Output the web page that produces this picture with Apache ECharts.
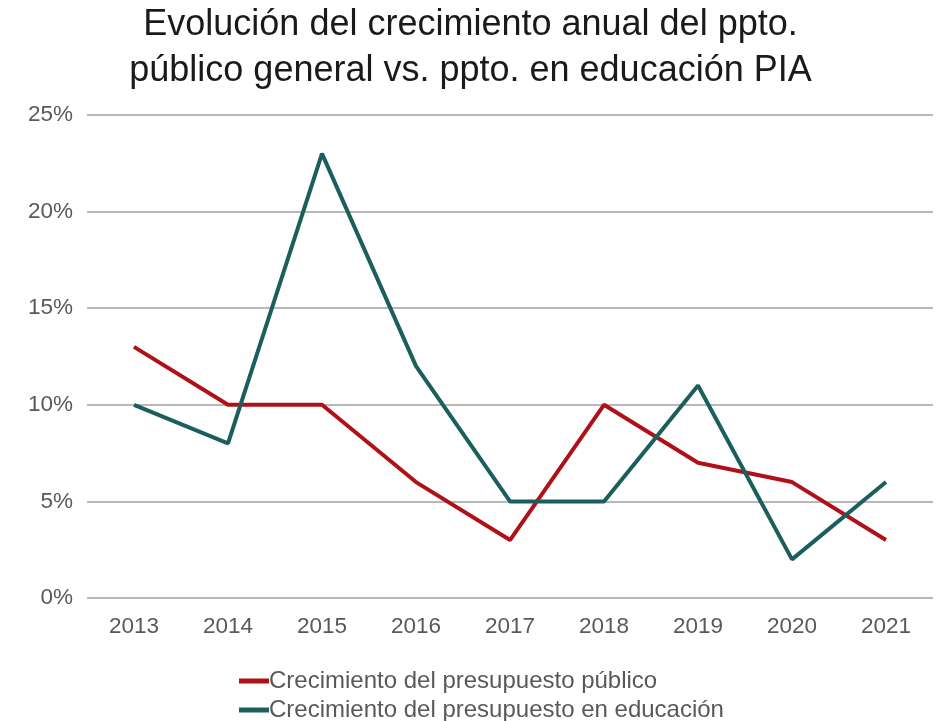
<!DOCTYPE html>
<html>
<head>
<meta charset="utf-8">
<script src="https://cdn.jsdelivr.net/npm/echarts@6/dist/echarts.min.js"></script>
<style>
  html, body { margin: 0; padding: 0; background: #fff; }
  #chart { width: 941px; height: 721px; }
</style>
</head>
<body>
<div id="chart"></div>
<script>
var years = ["2013", "2014", "2015", "2016", "2017", "2018", "2019", "2020", "2021"];
var publico = [13, 10, 10, 6, 3, 10, 7, 6, 3];
var educacion = [10, 8, 23, 12, 5, 5, 11, 2, 6];
var seriesNames = ["Crecimiento del presupuesto público", "Crecimiento del presupuesto en educación"];

var chart = echarts.init(document.getElementById("chart"));
var font = "'Liberation Sans', Arial, sans-serif";

// one legend per row, the reference stacks them
function legendRow(name, top) {
  return {
    left: 234,
    top: top,
    itemWidth: 30,
    itemHeight: 5,
    itemGap: 4,
    icon: "rect",
    data: [name],
    textStyle: {
      fontFamily: font,
      fontSize: 24,
      color: "#595959",
      padding: [0, 0, 0, -5]
    }
  };
}

chart.setOption({
  animation: false,
  title: {
    text: "Evolución del crecimiento anual del ppto.\npúblico general vs. ppto. en educación PIA",
    left: "center",
    top: -3,
    textStyle: {
      fontFamily: font,
      fontSize: 36,
      fontWeight: "normal",
      color: "#1a1a1a",
      lineHeight: 46
    }
  },
  grid: {
    left: 87,
    right: 8,
    top: 115,
    bottom: 123
  },
  xAxis: {
    type: "category",
    data: years,
    boundaryGap: true,
    axisLine: { show: false },
    axisTick: { show: false },
    axisLabel: {
      fontFamily: font,
      fontSize: 22.5,
      color: "#595959",
      margin: 17
    }
  },
  yAxis: {
    type: "value",
    min: 0,
    max: 25,
    interval: 5,
    axisLine: { show: false },
    axisTick: { show: false },
    axisLabel: {
      formatter: "{value}%",
      fontFamily: font,
      fontSize: 22.5,
      color: "#595959",
      margin: 14
    },
    splitLine: {
      lineStyle: { color: "#b8b8b8", width: 2 }
    }
  },
  legend: [
    legendRow(seriesNames[0], 664),
    legendRow(seriesNames[1], 693)
  ],
  series: [
    {
      name: seriesNames[0],
      type: "line",
      data: publico,
      symbol: "none",
      color: "#b01018",
      lineStyle: { width: 4, color: "#b01018" }
    },
    {
      name: seriesNames[1],
      type: "line",
      data: educacion,
      symbol: "none",
      color: "#1a5f5b",
      lineStyle: { width: 4, color: "#1a5f5b" }
    }
  ]
});
</script>
</body>
</html>
